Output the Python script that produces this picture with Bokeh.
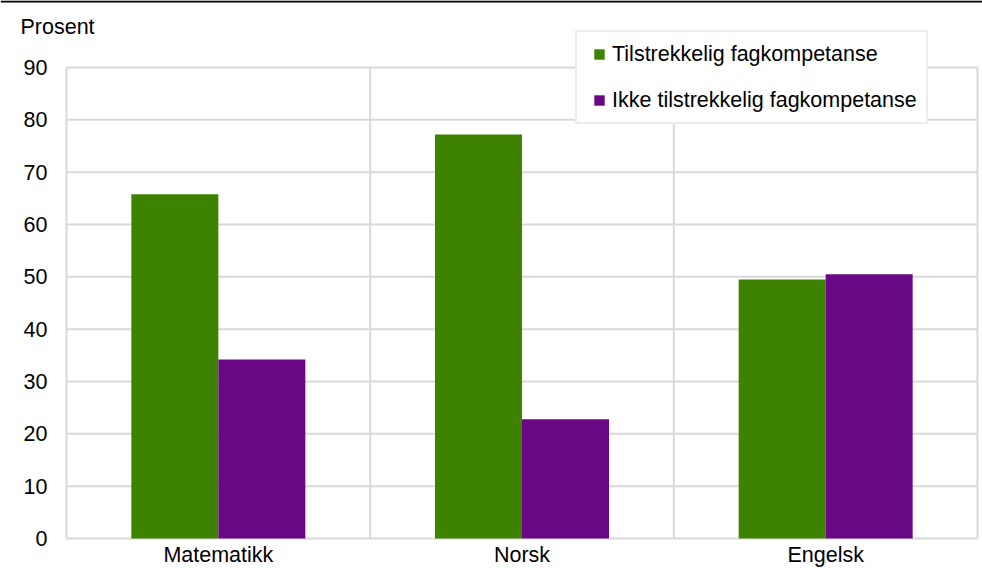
from bokeh.plotting import figure
from bokeh.models import Legend, LegendItem, Label, BoxAnnotation, Range1d
from bokeh.core.properties import value
from bokeh.embed import file_html
from bokeh.resources import INLINE

categories = ["Matematikk", "Norsk", "Engelsk"]
series_names = ["Tilstrekkelig fagkompetanse", "Ikke tilstrekkelig fagkompetanse"]
tilstrekkelig = [65.8, 77.2, 49.5]
ikke_tilstrekkelig = [34.2, 22.8, 50.5]
y_ticks = [0, 10, 20, 30, 40, 50, 60, 70, 80, 90]
y_label = "Prosent"

FONT = "Liberation Sans"
FS = "21.5px"
GREEN = "#3e8201"
PURPLE = "#680885"
GRID = "#d9d9d9"
TEXT = "#000000"
BAR_W = 0.2865

n = len(categories)
centers = [i + 0.5 for i in range(n)]
edges = [i for i in range(n + 1)]
ymin, ymax = y_ticks[0], y_ticks[-1]

W, H = 982, 568
# frame fills the whole canvas; plot area of the chart is at px 66..977 x 67..538
px_per_x = (977 - 66) / n
px_per_y = (538 - 67) / (ymax - ymin)
x_range = Range1d(-66 / px_per_x, (W - 66) / px_per_x)
y_range = Range1d(ymin - (H - 538) / px_per_y, ymax + 67 / px_per_y)

p = figure(width=W, height=H, output_backend="svg", toolbar_location=None,
           x_range=x_range, y_range=y_range,
           x_axis_location=None, y_axis_location=None,
           min_border=0, min_border_left=0, min_border_right=0,
           min_border_top=0, min_border_bottom=0)
p.grid.visible = False
p.outline_line_color = None
p.background_fill_color = "white"
p.border_fill_color = "white"

# grid lines and plot-area border
p.segment(x0=[edges[0]] * len(y_ticks), x1=[edges[-1]] * len(y_ticks),
          y0=y_ticks, y1=y_ticks, line_color=GRID, line_width=2)
p.segment(x0=edges, x1=edges, y0=[ymin] * len(edges), y1=[ymax] * len(edges),
          line_color=GRID, line_width=2)

# bars
p.vbar(x=[c - BAR_W / 2 for c in centers], top=tilstrekkelig, width=BAR_W,
       fill_color=GREEN, line_color=None)
p.vbar(x=[c + BAR_W / 2 for c in centers], top=ikke_tilstrekkelig, width=BAR_W,
       fill_color=PURPLE, line_color=None)

# axis tick labels
p.text(x=[edges[0]] * len(y_ticks), y=y_ticks, text=[str(t) for t in y_ticks],
       x_offset=-19, text_align="right", text_baseline="middle",
       text_font=value(FONT), text_font_size=FS, text_color=TEXT)
p.text(x=centers, y=[ymin] * n, text=categories, y_offset=4,
       text_align="center", text_baseline="top",
       text_font=value(FONT), text_font_size=FS, text_color=TEXT)

# legend (marker renderers of size 0 only serve as legend swatches)
lg = p.scatter(x=[c - BAR_W / 2 for c in centers], y=tilstrekkelig, size=0,
               marker="square", fill_color=GREEN, line_color=None)
lv = p.scatter(x=[c + BAR_W / 2 for c in centers], y=ikke_tilstrekkelig, size=0,
               marker="square", fill_color=PURPLE, line_color=None)
legend = Legend(items=[LegendItem(label=series_names[0], renderers=[lg]),
                       LegendItem(label=series_names[1], renderers=[lv])],
                location=(575, 444), orientation="vertical",
                padding=9, spacing=20, margin=0,
                glyph_width=26, glyph_height=26, label_standoff=0,
                label_text_font=FONT, label_text_font_size=FS,
                label_text_color=TEXT,
                border_line_color=GRID, border_line_width=2,
                background_fill_color="white", background_fill_alpha=1)
p.add_layout(legend, "center")

p.add_layout(Label(x=20, y=542, x_units="screen", y_units="screen", text=y_label,
                   text_baseline="alphabetic", text_font=FONT, text_font_size=FS,
                   text_color=TEXT))

p.add_layout(BoxAnnotation(left=0, right=W, bottom=H - 2, top=H,
                           left_units="screen", right_units="screen",
                           bottom_units="screen", top_units="screen",
                           fill_color="black", fill_alpha=1, line_color=None))

open("out.html", "w").write(file_html(p, INLINE))
